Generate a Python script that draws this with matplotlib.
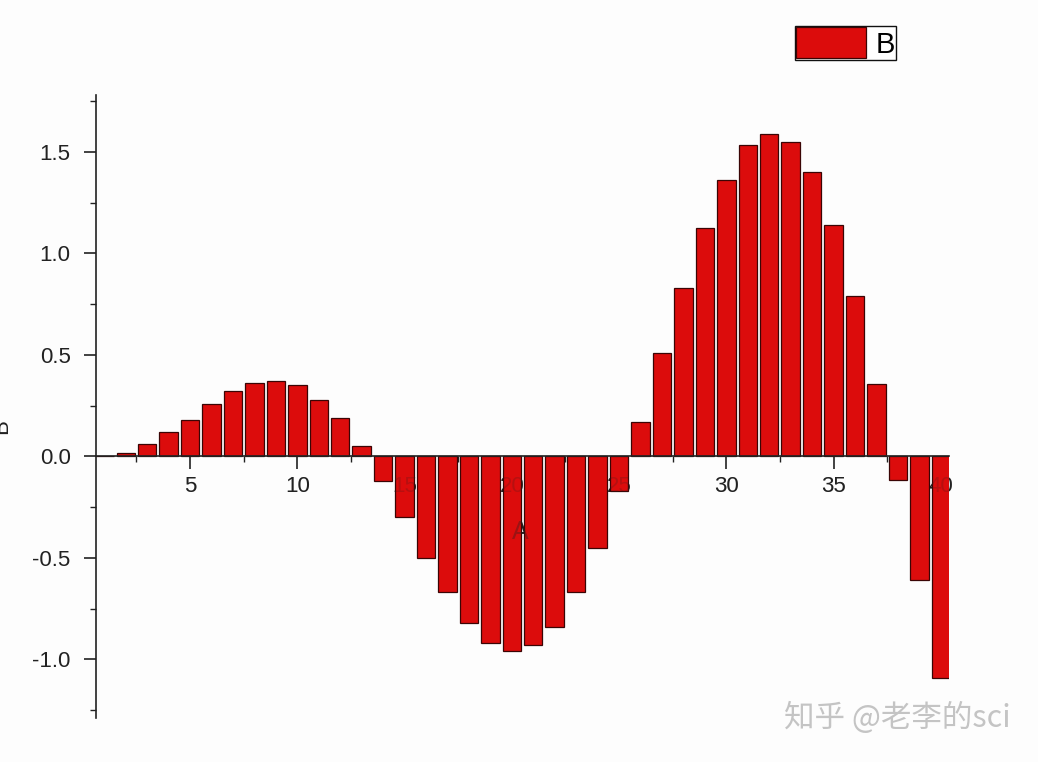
import numpy as np
import matplotlib
matplotlib.use('Agg')
import matplotlib.pyplot as plt
from matplotlib.ticker import MultipleLocator, FormatStrFormatter

plt.rcParams['font.family'] = ['Liberation Sans', 'DejaVu Sans']
plt.rcParams['axes.unicode_minus'] = False

# data
a_vals = list(range(1, 41))
b_vals = [0.0, 0.015, 0.06, 0.12, 0.18, 0.26, 0.32, 0.36, 0.37, 0.35,
          0.28, 0.19, 0.05, -0.12, -0.30, -0.50, -0.67, -0.82, -0.92, -0.96,
          -0.93, -0.84, -0.67, -0.45, -0.17, 0.17, 0.51, 0.83, 1.125, 1.36,
          1.535, 1.59, 1.55, 1.40, 1.14, 0.79, 0.356, -0.115, -0.61, -1.09]
x_ticks = [5, 10, 15, 20, 25, 30, 35, 40]
y_ticks = [-1.0, -0.5, 0.0, 0.5, 1.0, 1.5]

fig = plt.figure(figsize=(10.38, 7.62), dpi=100, facecolor='#fdfdfd')
ax = fig.add_axes([0.0922, 0.0573, 0.8224, 0.8180])
ax.set_facecolor('#fdfdfd')

bars = ax.bar(a_vals, b_vals, width=0.86, color='#dc0c0c',
              edgecolor='#3a0505', linewidth=0.9, label='B', zorder=1)

ax.set_xlim(0.6, 40.4)
ax.set_ylim(-1.29, 1.78)

# origin style axes: left spine + x axis through zero
ax.spines['top'].set_visible(False)
ax.spines['right'].set_visible(False)
ax.spines['bottom'].set_position(('data', 0))
for s in ['left', 'bottom']:
    ax.spines[s].set_linewidth(1.2)
    ax.spines[s].set_color('#222222')
    ax.spines[s].set_zorder(3)

ax.set_axisbelow(True)  # tick labels go under bars like the original

ax.set_xticks(x_ticks)
ax.xaxis.set_minor_locator(MultipleLocator(2.5))
ax.set_yticks(y_ticks)
ax.yaxis.set_minor_locator(MultipleLocator(0.25))
ax.yaxis.set_major_formatter(FormatStrFormatter('%.1f'))

ax.tick_params(axis='both', which='major', direction='out', length=9,
               width=1.2, color='#222222', labelsize=16, labelcolor='#222222')
ax.tick_params(axis='both', which='minor', direction='out', length=4.5,
               width=1.0, color='#222222')
ax.tick_params(axis='x', which='major', pad=5)
ax.tick_params(axis='y', which='major', pad=9)

ax.set_xlabel('A', fontsize=18, color='#222222')
ax.xaxis.set_label_coords(0.497, 0.318)

# faint ghost of the hidden labels showing through the bars
for t in x_ticks:
    ax.annotate(str(t), xy=(t, 0), xytext=(0, -14), textcoords='offset points',
                ha='center', va='top', fontsize=16, color='#222222',
                alpha=0.2, zorder=4)
ax.text(0.497, 0.318, 'A', transform=ax.transAxes, ha='center', va='top',
        fontsize=18, color='#222222', alpha=0.35, zorder=4)

fig.text(0.002, 0.44, 'B', rotation=90, fontsize=16, color='#222222',
         ha='center', va='center')

leg = ax.legend(handles=[bars], labels=['B'], loc='upper left',
                bbox_to_anchor=(795 / 1038, 1 - 26 / 762),
                bbox_transform=fig.transFigure, fontsize=21,
                handlelength=2.4, handleheight=1.25, handletextpad=0.3,
                borderpad=0.05, borderaxespad=0, fancybox=False,
                framealpha=1, edgecolor='#111111')
leg.get_frame().set_linewidth(1.0)

# watermark
fig.text(0.974, 0.058, '知乎 @老李的sci', fontsize=22, color='#c4c4c4',
         ha='right', va='center',
         family=['Noto Sans CJK SC', 'DejaVu Sans'])

fig.savefig('out.png', dpi=100, facecolor=fig.get_facecolor())
